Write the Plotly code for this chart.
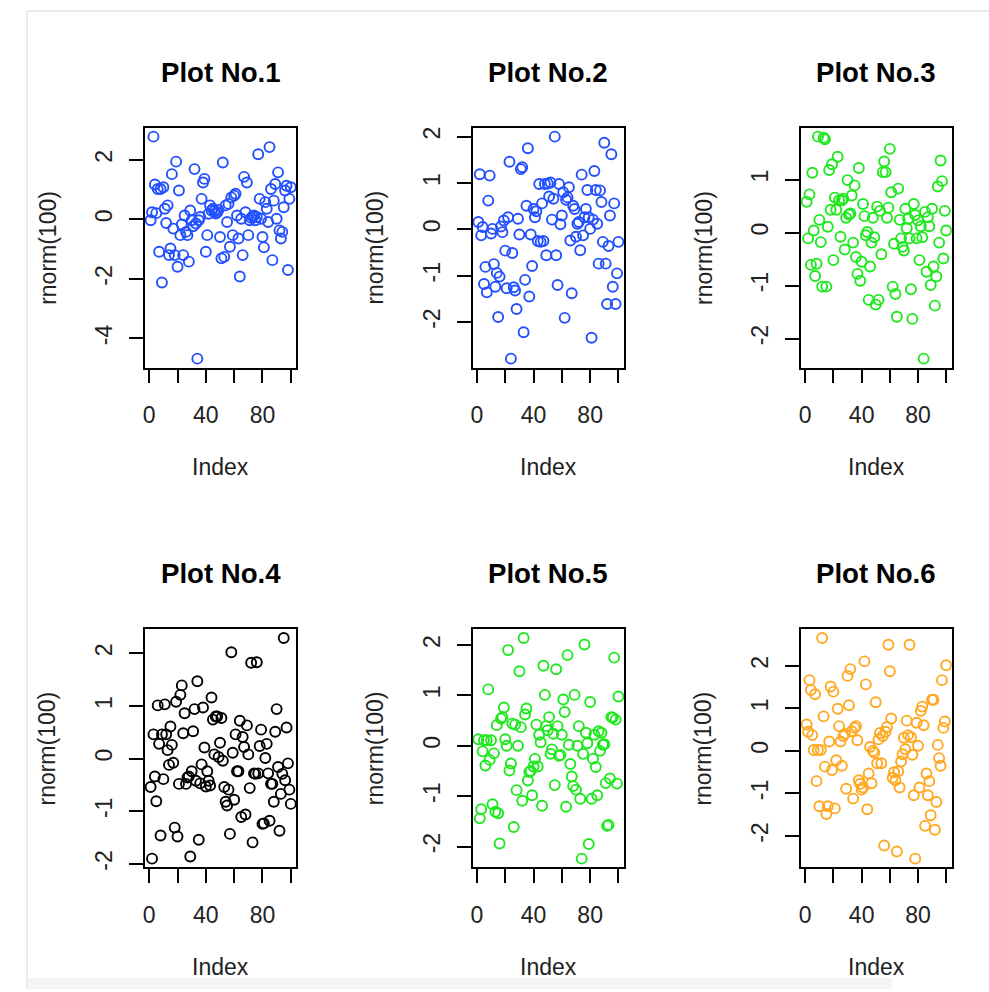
import plotly.graph_objects as go

# ---- data: six samples of 100 standard-normal draws, plotted against index ----
y1 = [-0.03, 0.24, 2.78, 1.17, 0.21, 1.02, -1.09, 1.02, -2.12, 1.08,
      0.36, -0.12, 0.47, -1.20, -0.98, 1.52, -0.31, -1.20, 1.94, -1.59,
      0.97, -0.53, -0.17, -1.20, 0.13, -0.42, -0.53, -1.42, 0.30, -0.03,
      -0.23, 1.69, -0.14, -4.68, -0.03, 0.08, 0.69, 1.24, 1.36, -1.09,
      -0.53, 0.19, 0.47, 0.30, 0.36, 0.28, 0.20, 0.24, 0.32, -0.59,
      -1.31, 1.91, -1.26, 0.47, -0.09, 0.52, -0.92, 0.74, -0.53, 0.80,
      0.86, 0.13, -0.64, -1.92, 0.02, -1.20, 1.43, 0.24, 1.24, -0.53,
      -0.03, 0.05, 0.10, 0.13, -0.03, 0.08, 2.19, 0.69, 0.02, -0.59,
      -0.94, 0.58, 0.36, -0.09, 2.43, 1.02, -1.37, 0.63, 1.19, 0.02,
      1.58, -0.37, -0.64, -0.42, 0.41, 0.97, 1.13, -1.70, 0.69, 1.08]

y2 = [0.16, 1.19, -0.13, 0.05, -1.18, -0.81, -1.36, 0.62, 1.16, -0.09,
      0.01, -0.75, -1.24, -0.94, -1.89, -1.02, 0.06, -0.06, 0.19, -0.46,
      -1.27, 0.26, 1.46, -2.79, -0.51, -1.25, -1.32, -1.72, 0.23, -0.11,
      1.30, 1.34, -2.22, -1.09, 0.51, 1.75, -1.45, -0.11, -0.79, 0.44,
      0.26, 0.39, -0.25, 0.98, -0.27, 0.56, -0.25, 0.98, -0.56, 0.99,
      0.71, 1.01, 0.21, 0.66, 2.00, -0.56, -1.20, 0.98, 0.11, 0.30,
      0.80, -1.91, 0.64, 0.69, 0.91, -0.24, -1.38, 0.51, 0.44, -0.16,
      0.12, 0.16, -0.45, 1.18, -0.13, 0.26, 0.44, 0.85, 0.26, 0.01,
      -2.34, 0.21, 1.26, 0.85, 0.12, -0.74, 0.84, 0.59, -0.27, 1.87,
      -0.74, -1.61, -0.36, 0.30, 1.62, -1.24, 0.56, -1.61, -0.95, -0.27]

y3 = [0.58, -0.11, 0.72, -0.61, 1.13, 0.04, -0.82, -0.59, 1.81, 0.24,
      -0.18, -1.02, 1.79, 1.76, -1.02, 0.11, 1.18, 0.43, 1.29, -0.52,
      0.66, 0.43, 1.43, 0.61, -0.08, 0.61, 0.64, -0.32, 0.28, 0.99,
      0.34, 0.36, 0.70, -0.19, 0.89, -0.46, -0.78, 1.22, -0.91, -0.55,
      0.54, 0.31, -0.05, 0.01, -1.27, -0.64, -0.19, 0.28, -0.09, -1.36,
      0.49, -1.27, 0.41, -0.41, 1.14, 1.34, 1.14, 0.28, 0.47, 1.58,
      0.76, -1.02, -0.21, -1.16, -1.59, 0.83, 0.24, -0.11, -0.27, -0.34,
      0.45, 0.08, 0.26, -0.11, -1.07, -1.63, 0.54, 0.33, -0.11, 0.23,
      -0.52, 0.12, -0.09, -2.38, 0.39, -0.74, 0.29, 0.12, -0.99, 0.45,
      -0.64, -1.38, -0.83, 0.87, -0.19, 1.36, 0.97, -0.49, 0.41, 0.04]

y4 = [-0.54, -1.90, 0.46, -0.34, -0.81, 1.01, 0.28, -1.46, 0.46, -0.39,
      1.03, 0.46, 0.16, -0.12, 0.61, 0.26, -0.08, -1.31, 1.08, -1.48,
      -0.48, 1.21, 1.39, 0.48, 0.86, -0.48, -0.36, -0.34, -1.86, -0.24,
      0.52, 0.94, -0.42, 1.47, -1.54, -0.47, -0.11, 0.97, 0.21, -0.53,
      -0.24, -0.42, -0.51, 1.16, 0.74, 0.08, 0.80, 0.80, 0.03, 0.30,
      0.77, -0.04, -0.54, -0.82, -0.89, -0.59, -1.43, 2.02, 0.11, -0.78,
      0.46, -0.24, -0.24, 0.72, -1.11, 0.41, 0.22, -1.06, 0.63, 0.08,
      -0.56, 1.82, -1.59, -0.28, -0.29, 1.83, -0.28, 0.24, 0.55, -1.24,
      -1.23, 0.01, 0.28, -0.28, -1.18, -0.48, -0.48, -0.82, 0.51, 0.94,
      -0.16, -1.37, -0.67, -0.29, 2.29, -0.41, 0.59, -0.09, -0.59, -0.86]

y5 = [0.13, -1.44, -1.26, -0.11, 0.11, -0.39, 0.11, 1.12, -0.28, 0.11,
      -1.16, -0.15, -1.31, 0.41, -1.34, -1.94, 0.54, 0.57, 0.76, 0.13,
      0.00, 1.90, -0.49, -0.35, 0.44, -1.61, 0.42, -0.88, 0.00, 1.48,
      0.37, -1.09, 2.14, 0.62, 0.74, -0.69, -0.52, -0.50, -0.98, -0.41,
      -0.26, 0.42, -0.41, 0.22, 0.07, -1.19, 1.59, 1.01, 0.39, 0.31,
      0.57, -0.16, -0.07, 0.24, -0.78, 1.52, 0.39, -0.20, -0.18, 0.22,
      0.92, 0.67, -1.21, 1.80, 0.02, -0.36, -0.61, -0.80, 1.01, -0.87,
      0.00, 0.39, -1.05, -2.24, -0.16, 2.01, 0.26, 0.05, -1.95, 0.87,
      -1.05, -0.26, 0.22, -0.42, -0.98, 0.29, -0.10, 0.26, 0.02, 0.03,
      -0.74, -1.59, -1.57, -0.65, 0.57, 0.56, 1.75, 0.52, -0.75, 0.98]

y6 = [0.62, 0.45, 1.66, 1.43, 0.37, 0.02, 1.33, -0.71, 0.02, -1.30,
      0.02, 2.65, 0.81, -0.37, -1.48, -1.30, 0.22, 1.51, -0.45, 1.39,
      -1.35, -0.22, 0.99, 0.58, 0.22, -0.35, 0.35, 0.40, -0.89, 1.76,
      1.07, 1.92, 0.46, -1.12, 0.54, 0.58, 0.25, -0.69, -0.77, -0.91,
      -0.86, 2.10, 1.56, -1.37, -0.53, 0.09, -0.76, 0.00, -0.04, 1.14,
      -0.29, 0.27, 0.42, -0.29, 0.35, -2.22, 0.45, 0.56, 2.49, 1.87,
      0.76, -0.63, -0.50, -0.69, -2.36, -0.48, -0.86, -0.25, -0.08, 0.31,
      0.04, 0.71, 0.37, 2.49, 0.32, -0.09, -1.04, -2.53, 0.66, 0.12,
      -0.86, 0.94, 1.04, 0.60, -1.76, -0.53, -1.04, -0.71, -1.51, 1.20,
      1.20, -1.85, -1.20, 0.14, -0.17, -0.35, 1.66, 0.54, 0.69, 2.01]

series = [y1, y2, y3, y4, y5, y6]
titles = ["Plot No.1", "Plot No.2", "Plot No.3", "Plot No.4", "Plot No.5", "Plot No.6"]
colors = ["#2350ff", "#2350ff", "#1ee81e", "#000000", "#1ee81e", "#ffa820"]

x_tickvals = [0, 20, 40, 60, 80, 100]
x_ticktext = ["0", "", "40", "", "80", ""]
y_tickvals = [[-4, -2, 0, 2], [-2, -1, 0, 1, 2], [-2, -1, 0, 1],
              [-2, -1, 0, 1, 2], [-2, -1, 0, 1, 2], [-2, -1, 0, 1, 2]]
x_title = "Index"
y_title = "rnorm(100)"

# ---- page geometry (pixels) ----
W, H = 989, 992
COLS = [(143.3, 295.0), (471.7, 623.3), (800.7, 951.7)]
ROWS = [(127.3, 368.0), (630.7, 870.0)]
FONT = "Liberation Sans, Arial, Helvetica, sans-serif"


def px(x):
    return x / W


def py(y):
    return 1 - y / H


def ylabel(v):
    return str(v).replace("\u2212", "-")


fig = go.Figure()
layout = dict(
    width=W, height=H, autosize=False,
    margin=dict(l=0, r=0, t=0, b=0),
    paper_bgcolor="white", plot_bgcolor="white",
    showlegend=False,
    font=dict(family=FONT, size=23, color="black"),
)
annotations = []
shapes = [
    # page frame
    dict(type="line", xref="paper", yref="paper", x0=px(25), x1=1, y0=py(10), y1=py(10),
         line=dict(color="#e2e4e6", width=1.5)),
    dict(type="line", xref="paper", yref="paper", x0=px(25), x1=px(25), y0=py(10), y1=0,
         line=dict(color="#e2e4e6", width=1.5)),
    dict(type="rect", xref="paper", yref="paper", x0=px(26), x1=px(892), y0=0, y1=py(981),
         line=dict(width=0), fillcolor="#f4f4f4"),
]

for k, ys in enumerate(series):
    r, c = divmod(k, 3)
    x0, x1 = COLS[c]
    t0, t1 = ROWS[r]
    n = len(ys)
    xs = list(range(1, n + 1))
    ax = "" if k == 0 else str(k + 1)

    fig.add_trace(go.Scatter(
        x=xs, y=ys, mode="markers", xaxis="x" + ax, yaxis="y" + ax,
        marker=dict(symbol="circle-open", size=10, color=colors[k],
                    line=dict(width=1.9, color=colors[k])),
        hoverinfo="skip",
    ))

    # R-style axis extension: data range padded by 4% on each side
    ylo, yhi = min(ys), max(ys)
    yd = yhi - ylo
    xd = n - 1
    common = dict(showgrid=False, zeroline=False, showline=True, mirror=True,
                  linecolor="black", linewidth=1.6, ticks="outside", ticklen=14,
                  tickwidth=1.6, tickcolor="black", fixedrange=True,
                  tickfont=dict(family=FONT, size=23, color="#222"))
    layout["xaxis" + ax] = dict(
        common, domain=[px(x0), px(x1)], anchor="y" + ax,
        range=[1 - 0.04 * xd, n + 0.04 * xd],
        tickmode="array", tickvals=x_tickvals, ticktext=x_ticktext,
        ticklabelstandoff=12,
    )
    layout["yaxis" + ax] = dict(
        common, domain=[py(t1), py(t0)], anchor="x" + ax,
        range=[ylo - 0.04 * yd, yhi + 0.04 * yd],
        tickmode="array", tickvals=y_tickvals[k],
        ticktext=[ylabel(v) for v in y_tickvals[k]],
        tickangle=-90, ticklabelstandoff=8,
    )

    cx = (x0 + x1) / 2
    cy = (t0 + t1) / 2
    annotations += [
        dict(text="<b>" + titles[k] + "</b>", x=px(cx), y=py(t0 - 56), xref="paper", yref="paper",
             showarrow=False, xanchor="center", yanchor="middle",
             font=dict(family=FONT, size=27.6, color="black")),
        dict(text=x_title, x=px(cx), y=py(t1 + 100), xref="paper", yref="paper",
             showarrow=False, xanchor="center", yanchor="middle",
             font=dict(family=FONT, size=23, color="#222")),
        dict(text=y_title, x=px(x0 - 98), y=py(cy), xref="paper", yref="paper",
             showarrow=False, xanchor="center", yanchor="middle", textangle=-90,
             font=dict(family=FONT, size=23, color="#222")),
    ]

layout["annotations"] = annotations
layout["shapes"] = shapes
fig.update_layout(**layout)
fig.write_html("out.html")
